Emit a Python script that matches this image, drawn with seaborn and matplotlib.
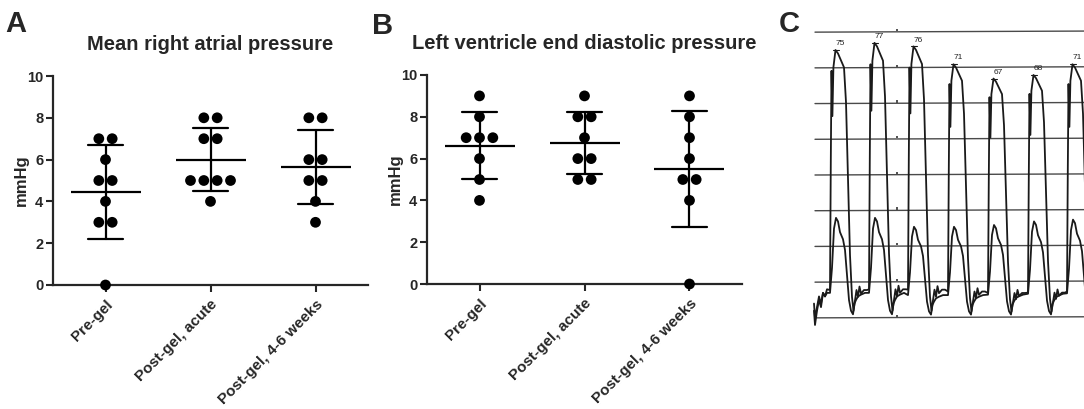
import numpy as np
import pandas as pd
import matplotlib.pyplot as plt
import seaborn as sns

# data
groups = ['Pre-gel', 'Post-gel, acute', 'Post-gel, 4-6 weeks']
rap_pre = [7, 7, 6, 5, 5, 4, 3, 3, 0]
rap_acute = [8, 8, 7, 7, 5, 5, 5, 5, 4]
rap_late = [8, 8, 6, 6, 5, 5, 4, 3]
lvedp_pre = [9, 8, 7, 7, 7, 6, 5, 4]
lvedp_acute = [9, 8, 8, 7, 6, 6, 5, 5]
lvedp_late = [9, 8, 7, 6, 5, 5, 4, 0]

# pressure trace (panel C), mmHg
beat_onsets = [18, 57, 96, 136, 176, 216, 255]
beat_peaks = [75, 77, 76, 71, 67, 68, 71]
low_peaks = [28, 28, 25.5, 25.5, 26, 27, 27.5]
lead_t = [-16, -15, -13, -11, -9, -7, -5, -3]
lead_lv = [2, -2, 2, 5, 3, 7, 6, 8]
lead_low = [4, 0, 3, 6, 4, 7, 6, 7]
lv_t = [0, 0.8, 1.5, 2.4, 3.4, 5.5, 8, 11, 14, 16, 18, 20, 22, 23.5, 25, 26.5, 28, 29.5, 31, 34, 37]
lv_p = [8, 45, 71, 58, 72, 77, 76, 74, 72, 62, 40, 18, 6, 2, 5, 8, 6, 9, 7, 8, 8]
low_t = [0, 2, 4, 6, 8, 10, 13, 15, 17, 19, 21, 23, 24.5, 26, 28, 31, 35]
low_p = [7, 14, 25, 28, 27, 24, 22, 19, 12, 5, 2, 1, 4, 5, 6, 6.5, 7]
grid_levels = [0, 10, 20, 30, 40, 50, 60, 70, 80]

sns.set_style('ticks')
plt.rcParams['font.family'] = ['Liberation Sans', 'DejaVu Sans']
plt.rcParams['font.weight'] = 'bold'
plt.rcParams['axes.labelweight'] = 'bold'

fig = plt.figure(figsize=(10.84, 4.09), dpi=100)


def to_long(vals_list):
    rows = []
    for g, vals in zip(groups, vals_list):
        for v in vals:
            rows.append((g, v))
    df = pd.DataFrame(rows, columns=['group', 'value'])
    # spread tied values side by side, like the prism scatter
    xpos = []
    for gi, vals in enumerate(vals_list):
        vals = np.array(vals)
        for i, v in enumerate(vals):
            same = list(np.where(vals == v)[0])
            k = same.index(i)
            xpos.append(gi + (k - (len(same) - 1) / 2) * 0.127)
    df['xpos'] = xpos
    return df


def dot_panel(ax, vals_list, title):
    df = to_long(vals_list)
    sns.pointplot(data=df, x='group', y='value', order=groups, errorbar='sd',
                  capsize=0.33, color='black', markers='_', markersize=50,
                  markeredgewidth=1.6, linestyle='none',
                  err_kws={'linewidth': 1.6}, ax=ax)
    sns.scatterplot(data=df, x='xpos', y='value', color='black', s=60,
                    edgecolor='none', legend=False, clip_on=False, zorder=5, ax=ax)
    ax.set_xlim(-0.5, 2.5)
    ax.set_ylim(0, 10)
    ax.set_yticks([0, 2, 4, 6, 8, 10])
    ax.set_xticks([0, 1, 2])
    ax.set_xticklabels(groups, rotation=45, ha='right', va='top',
                       rotation_mode='anchor', fontsize=11, fontweight='bold')
    ax.tick_params(axis='y', labelsize=10.5, width=1.5, length=5, pad=2)
    ax.tick_params(axis='x', width=1.5, length=5, pad=4)
    for lab in ax.get_yticklabels():
        lab.set_fontweight('bold')
    ax.set_xlabel('')
    ax.set_ylabel('mmHg', fontsize=12, fontweight='bold')
    ax.yaxis.set_label_coords(-0.078, 0.5)
    ax.set_title(title, fontsize=14.5, fontweight='bold', pad=19)
    for s in ['left', 'bottom']:
        ax.spines[s].set_linewidth(1.6)
    sns.despine(ax=ax)


ax1 = fig.add_axes([53 / 1084, 124 / 409, 315 / 1084, 209 / 409])
dot_panel(ax1, [rap_pre, rap_acute, rap_late], 'Mean right atrial pressure')

ax2 = fig.add_axes([427 / 1084, 125 / 409, 315 / 1084, 209 / 409])
dot_panel(ax2, [lvedp_pre, lvedp_acute, lvedp_late], 'Left ventricle end diastolic pressure')

# panel C: pressure tracing
ax3 = fig.add_axes([812 / 1084, 79 / 409, 272 / 1084, 305 / 409])
t_lv, p_lv, t_low, p_low = [], [], [], []
t0 = beat_onsets[0]
t_lv += [t0 + t for t in lead_t]
p_lv += lead_lv
t_low += [t0 + t for t in lead_t]
p_low += lead_low
for on, pk, lpk in zip(beat_onsets, beat_peaks, low_peaks):
    t_lv += [on + t for t in lv_t]
    p_lv += [p * pk / 77 for p in lv_p]
    t_low += [on + t for t in low_t]
    p_low += [p * lpk / 28 for p in low_p]

for lev in grid_levels:
    ax3.plot([3, 272], [lev, lev + 0.3], color='#4a4a4a', lw=1.0)
sns.scatterplot(x=[85] * len(grid_levels), y=[g + 0.6 for g in grid_levels],
                marker='s', s=3, color='#555555', edgecolor='none', legend=False, ax=ax3)
sns.lineplot(x=t_lv, y=p_lv, sort=False, estimator=None, color='#1a1a1a', lw=1.3, ax=ax3)
sns.lineplot(x=t_low, y=p_low, sort=False, estimator=None, color='#1a1a1a', lw=1.3, ax=ax3)
for on, pk in zip(beat_onsets, beat_peaks):
    ax3.plot([on + 2.5, on + 8.5], [pk, pk], color='#1a1a1a', lw=0.8)
    ax3.text(on + 6, pk + 0.8, str(pk), fontsize=6, fontweight='normal',
             ha='left', va='bottom', color='#222222')
ax3.set_xlim(0, 272)
ax3.set_ylim(-3.4, 82)
ax3.axis('off')

fig.text(5 / 1084, 1 - 10 / 409, 'A', fontsize=21, fontweight='bold', va='top')
fig.text(372 / 1084, 1 - 12 / 409, 'B', fontsize=21, fontweight='bold', va='top')
fig.text(779 / 1084, 1 - 10 / 409, 'C', fontsize=21, fontweight='bold', va='top')

fig.savefig('out.png', dpi=100)
